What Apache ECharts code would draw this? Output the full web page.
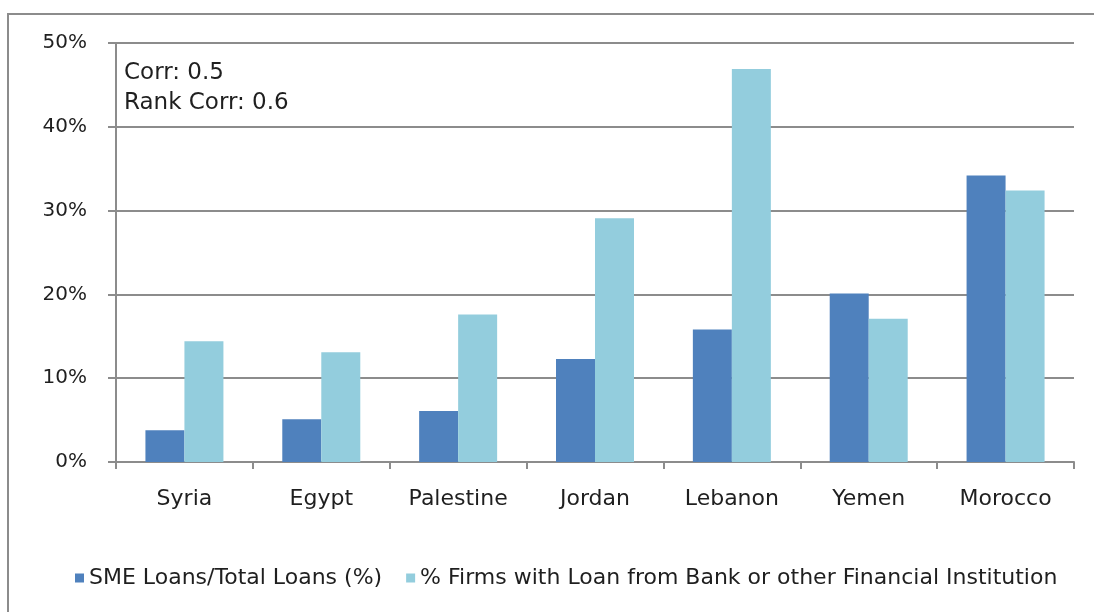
<!DOCTYPE html>
<html>
<head>
<meta charset="utf-8">
<script src="https://cdn.jsdelivr.net/npm/echarts@6/dist/echarts.min.js"></script>
<style>
  html, body { margin: 0; padding: 0; background: #ffffff; }
  #chart { width: 1094px; height: 612px; }
</style>
</head>
<body>
<div id="chart"></div>
<script>
// Countries along the x axis
const countries = ['Syria', 'Egypt', 'Palestine', 'Jordan', 'Lebanon', 'Yemen', 'Morocco'];
// SME loans as a share of total bank loans (%)
const smeLoanShare = [3.8, 5.1, 6.1, 12.3, 15.8, 20.1, 34.2];
// Share of firms with a loan from a bank or other financial institution (%)
const firmsWithLoan = [14.4, 13.1, 17.6, 29.1, 46.9, 17.1, 32.4];
// Value axis ticks (%)
const yTicks = [0, 10, 20, 30, 40, 50];
const seriesNames = ['SME Loans/Total Loans (%)', '% Firms with Loan from Bank or other Financial Institution'];
const corrNotes = ['Corr: 0.5', 'Rank Corr: 0.6'];

const FONT = '"DejaVu Sans", Verdana, sans-serif';
const GRAY = '#8c8c8c';
const TEXT = '#1f1f1f';

const chart = echarts.init(document.getElementById('chart'), null, { renderer: 'canvas' });

chart.setOption({
  animation: false,
  backgroundColor: '#ffffff',
  textStyle: { fontFamily: FONT, color: TEXT },
  grid: { left: 116, right: 20, top: 43, bottom: 150, containLabel: false },
  legend: {
    left: 70,
    top: 562,
    icon: 'rect',
    itemWidth: 9,
    itemHeight: 9,
    itemGap: 24,
    textStyle: { fontFamily: FONT, fontSize: 22, color: TEXT },
    data: seriesNames
  },
  graphic: [
    {
      type: 'rect',
      silent: true,
      shape: { x: 8, y: 14, width: 1200, height: 800 },
      style: { fill: 'none', stroke: GRAY, lineWidth: 2 },
      z: 0
    },
    {
      type: 'text',
      left: 124,
      top: 58,
      style: {
        text: corrNotes.join('\n'),
        font: '23px ' + FONT,
        lineHeight: 30,
        fill: TEXT
      },
      z: 10
    }
  ],
  xAxis: {
    type: 'category',
    data: countries,
    axisLine: { show: true, lineStyle: { color: GRAY, width: 2 } },
    axisTick: { show: true, length: 7, lineStyle: { color: GRAY, width: 2 } },
    axisLabel: { fontFamily: FONT, fontSize: 22, color: TEXT, margin: 26 }
  },
  yAxis: {
    type: 'value',
    min: yTicks[0],
    max: yTicks[yTicks.length - 1],
    interval: yTicks[1] - yTicks[0],
    axisLine: { show: true, lineStyle: { color: GRAY, width: 2 } },
    axisTick: { show: true, length: 8, lineStyle: { color: GRAY, width: 2 } },
    splitLine: { show: true, lineStyle: { color: GRAY, width: 2 } },
    axisLabel: { fontFamily: FONT, fontSize: 20, color: TEXT, margin: 29, formatter: '{value}%' }
  },
  series: [
    {
      name: seriesNames[0],
      type: 'bar',
      data: smeLoanShare,
      barWidth: 39,
      barGap: '0%',
      itemStyle: { color: '#4F81BD' }
    },
    {
      name: seriesNames[1],
      type: 'bar',
      data: firmsWithLoan,
      barWidth: 39,
      barGap: '0%',
      itemStyle: { color: '#93CDDD' }
    }
  ]
});
</script>
</body>
</html>
